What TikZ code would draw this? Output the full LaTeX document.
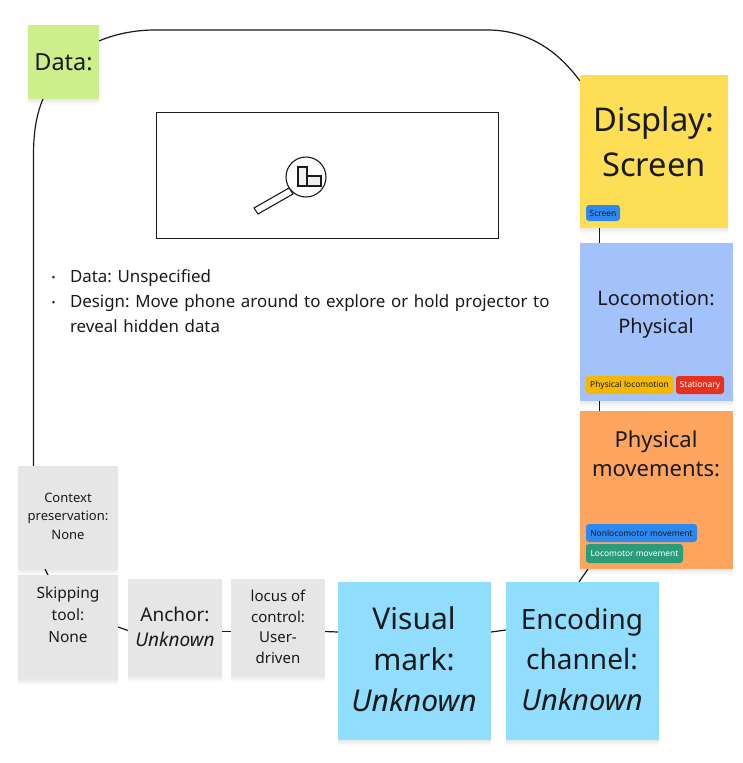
\documentclass[tikz,border=0pt]{standalone}
\usepackage{fontspec}
\setmainfont{Noto Sans}
\usetikzlibrary{backgrounds,calc}
\definecolor{ink}{HTML}{1A1A1A}
\definecolor{cgreen}{HTML}{CCEF8C}
\definecolor{cyellow}{HTML}{FDDE55}
\definecolor{cblue}{HTML}{A3C1FB}
\definecolor{corange}{HTML}{FDA55F}
\definecolor{ccyan}{HTML}{91DDFE}
\definecolor{cgrey}{HTML}{E6E6E6}
\definecolor{tblue}{HTML}{2D89EF}
\definecolor{tgold}{HTML}{F5B800}
\definecolor{tred}{HTML}{E8301F}
\definecolor{tgreen}{HTML}{2A9D78}
\tikzset{
  x=1pt,y=-1pt,
  stickybox/.style={rectangle,inner sep=0pt,outer sep=0pt,text=ink,align=center,
    preaction={fill=black,fill opacity=.03,transform canvas={yshift=-2pt}},
    preaction={fill=black,fill opacity=.03,transform canvas={yshift=-4pt}},
    preaction={fill=black,fill opacity=.02,transform canvas={yshift=-6pt}}},
  tagbox/.style={rectangle,rounded corners=3pt,inner sep=0pt,outer sep=0pt,anchor=north west,
    font=\fontsize{8.4}{10}\selectfont},
  wordsnode/.style={inner sep=0pt,outer sep=0pt,text=ink,align=center},
  link/.style={draw=ink,line width=1.2pt},
  sz/.style 2 args={font=\fontsize{#1}{#2}\selectfont},
}
% name, x1, y1, x2, y2, colour
\newcommand{\stickyat}[6]{\node[stickybox,fill=#6,minimum width=#4pt-#2pt,minimum height=#5pt-#3pt,anchor=north west] (#1) at (#2,#3) {};}
\newcommand{\bulletmark}{\makebox[19pt][l]{\hspace*{0.5pt}\raisebox{0.5pt}{\fontsize{10.5}{10}\selectfont •}}}
\begin{document}
\begin{tikzpicture}
\useasboundingbox (0,0) rectangle (743,763);

\stickyat{data}{28}{25}{99}{99}{cgreen}
\stickyat{display}{580}{75}{728}{228}{cyellow}
\stickyat{loco}{580}{243}{733}{401}{cblue}
\stickyat{phys}{580}{411}{733}{569}{corange}
\stickyat{enc}{506}{582}{659}{740}{ccyan}
\stickyat{vis}{338}{582}{491}{740}{ccyan}
\stickyat{locus}{231}{579}{325}{676}{cgrey}
\stickyat{anchr}{128}{579}{222}{676}{cgrey}
\stickyat{skip}{18}{575}{118}{679}{cgrey}
\stickyat{ctx}{18}{466}{118}{569}{cgrey}

\node[wordsnode,sz={23.5}{30}] (tdata) at (63.5,62) {Data:};
\node[wordsnode,sz={32.7}{45}] (tdisplay) at (654,142) {Display:\\Screen};
\node[wordsnode,sz={20}{28}] (tloco) at (656,315) {Locomotion:\\Physical};
\node[wordsnode,sz={22}{29.5}] (tphys) at (656,454) {Physical\\movements:};
\node[wordsnode,sz={28}{40.5}] (tenc) at (582,659) {Encoding\\channel:\\{\fontsize{29}{40.5}\selectfont\textit{Unknown}}};
\node[wordsnode,sz={30}{41}] (tvis) at (414,659) {Visual\\mark:\\\textit{Unknown}};
\node[wordsnode,sz={15}{20.5}] (tlocus) at (278,627) {locus of\\control:\\User-\\driven};
\node[wordsnode,sz={19}{25}] (tanchor) at (175,627) {Anchor:\\\textit{Unknown}};
\node[wordsnode,sz={15.5}{22}] (tskip) at (68,615) {Skipping\\tool:\\None};
\node[wordsnode,sz={13}{18.5}] (tctx) at (68,516) {Context\\preservation:\\None};

\node[tagbox,fill=tblue,minimum width=34pt,minimum height=16pt,text=ink] (t1) at (586,205) {Screen};
\node[tagbox,fill=tgold,minimum width=87pt,minimum height=18pt,text=ink] (t2) at (586,376) {Physical locomotion};
\node[tagbox,fill=tred,minimum width=48pt,minimum height=18pt,text=white] (t3) at (676,376) {Stationary};
\node[tagbox,fill=tblue,minimum width=111pt,minimum height=18pt,text=ink] (t4) at (586,524) {Nonlocomotor movement};
\node[tagbox,fill=tgreen,minimum width=97pt,minimum height=19pt,text=white] (t5) at (586,544) {Locomotor movement};

\node[draw=ink,line width=1.1pt,fill=white,minimum width=341.5pt,minimum height=126pt,inner sep=0pt,anchor=north west] (frame) at (156,112) {};

% magnifier
\node[draw=ink,line width=1.1pt,fill=white,circle,minimum size=40pt,inner sep=0pt] (lens) at (306,177) {};
\draw[ink,line width=1.1pt,fill=white] (254,208) -- (258,214) -- (293,194) -- (289,188) -- cycle;
\draw[ink,line width=1.1pt,fill=cgrey!60] (307,176) rectangle (321,186);
\draw[ink,line width=1.1pt,fill=cgrey!60] (298,167) rectangle (307,186);

\node[wordsnode,anchor=north west,align=left,sz={16.9}{25},text width=520pt] (notes) at (51,269.5)
  {\frenchspacing\bulletmark Data: Unspecified\\
   \bulletmark Design: Move phone around to explore or hold projector to\\
   \hspace*{19pt}reveal hidden data};

\begin{scope}[on background layer]
  \draw[link] ($(ctx.north west)+(15.5,0)$) -- (33.5,155) .. controls (33.5,130) and (37,113) .. ($(data.south west)+(15,0)$);
  \draw[link] ($(data.north east)+(0,16)$) .. controls (115,34) and (135,30) .. (155,30) -- (490,30)
     .. controls (525,31) and (555,47) .. ($(display.north west)+(0,6)$);
  \draw[link] ($(display.south west)+(19.5,0)$) -- ($(loco.north west)+(19.5,0)$);
  \draw[link] ($(loco.south west)+(19.5,0)$) -- ($(phys.north west)+(19.5,0)$);
  \draw[link] ($(phys.south west)+(8,0)$) -- ($(enc.north east)+(-80,0)$);
  \draw[link] ($(enc.west)+(0,-31)$) -- ($(vis.east)+(0,-29)$);
  \draw[link] ($(vis.west)+(0,-29)$) -- ($(locus.east)+(0,4)$);
  \draw[link] ($(locus.west)+(0,4)$) -- ($(anchr.east)+(0,4)$);
  \draw[link] ($(anchr.west)+(0,3)$) -- ($(skip.east)+(0,0)$);
  \draw[link] ($(skip.north west)+(30,0)$) -- ($(ctx.south west)+(27,0)$);
\end{scope}
\end{tikzpicture}
\end{document}
